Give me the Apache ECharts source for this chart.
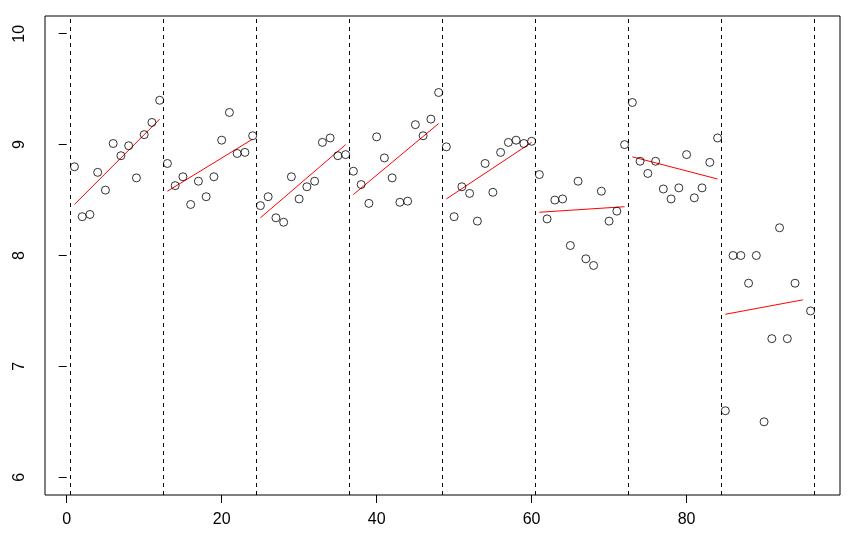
<!DOCTYPE html>
<html>
<head>
<meta charset="utf-8">
<script src="https://cdn.jsdelivr.net/npm/echarts@6/dist/echarts.min.js"></script>
<style>
  html, body { margin: 0; padding: 0; background: #fff; }
  #chart { width: 852px; height: 539px; }
</style>
</head>
<body>
<div id="chart"></div>
<script>
// observed values, index 1..96 (95 is missing)
var values = [
  8.80, 8.35, 8.37, 8.75, 8.59, 9.01, 8.90, 8.99, 8.70, 9.09, 9.20, 9.40,
  8.83, 8.63, 8.71, 8.46, 8.67, 8.53, 8.71, 9.04, 9.29, 8.92, 8.93, 9.08,
  8.45, 8.53, 8.34, 8.30, 8.71, 8.51, 8.62, 8.67, 9.02, 9.06, 8.90, 8.91,
  8.76, 8.64, 8.47, 9.07, 8.88, 8.70, 8.48, 8.49, 9.18, 9.08, 9.23, 9.47,
  8.98, 8.35, 8.62, 8.56, 8.31, 8.83, 8.57, 8.93, 9.02, 9.04, 9.01, 9.03,
  8.73, 8.33, 8.50, 8.51, 8.09, 8.67, 7.97, 7.91, 8.58, 8.31, 8.40, 9.00,
  9.38, 8.85, 8.74, 8.85, 8.60, 8.51, 8.61, 8.91, 8.52, 8.61, 8.84, 9.06,
  6.60, 8.00, 8.00, 7.75, 8.00, 6.50, 7.25, 8.25, 7.25, 7.75, null, 7.50
];
// segment boundaries (dashed lines)
var breaks = [0.5, 12.5, 24.5, 36.5, 48.5, 60.5, 72.5, 84.5, 96.5];
// fitted trend per segment: x range and fitted value at each end
var trendX0 = [1, 13, 25, 37, 49, 61, 73, 85];
var trendX1 = [12, 24, 36, 48, 60, 72, 84, 95];
var trendY0 = [8.46, 8.58, 8.34, 8.55, 8.51, 8.39, 8.89, 7.47];
var trendY1 = [9.23, 9.05, 9.00, 9.19, 9.02, 8.44, 8.69, 7.60];
var xTicks = [0, 20, 40, 60, 80];
var yTicks = [6, 7, 8, 9, 10];

var font = '"Liberation Sans", Arial, sans-serif';
var chart = echarts.init(document.getElementById('chart'));

var points = [];
values.forEach(function (v, i) {
  if (v !== null) points.push([i + 1, v]);
});

var series = [];
trendX0.forEach(function (x0, k) {
  series.push({
    type: 'line',
    data: [[x0, trendY0[k]], [trendX1[k], trendY1[k]]],
    showSymbol: false,
    silent: true,
    lineStyle: { color: '#ff0000', width: 1 },
    z: 3
  });
});
series.push({
  type: 'scatter',
  data: points,
  symbol: 'circle',
  symbolSize: 8,
  itemStyle: { color: 'rgba(0,0,0,0)', borderColor: '#000', borderWidth: 1 },
  z: 4,
  markLine: {
    silent: true,
    symbol: ['none', 'none'],
    label: { show: false },
    lineStyle: { color: '#000', type: [4, 4], width: 1 },
    data: breaks.map(function (b) { return { xAxis: b }; })
  }
});

var option = {
  backgroundColor: '#fff',
  animation: false,
  grid: {
    left: 45, right: 12, top: 16, bottom: 44,
    show: true, borderColor: '#000', borderWidth: 1
  },
  xAxis: {
    type: 'value',
    min: -2.8, max: 99.8,
    splitLine: { show: false },
    axisLine: { show: false },
    axisTick: { show: true, length: 8, customValues: xTicks, lineStyle: { color: '#000' } },
    axisLabel: { customValues: xTicks, margin: 17, color: '#000', fontSize: 16, fontFamily: font }
  },
  yAxis: {
    type: 'value',
    min: 5.84, max: 10.16,
    splitLine: { show: false },
    axisLine: { show: false },
    axisTick: { show: true, length: 8, customValues: yTicks, lineStyle: { color: '#000' } },
    axisLabel: { customValues: yTicks, rotate: 90, margin: 17, color: '#000', fontSize: 16, fontFamily: font }
  },
  series: series
};
chart.setOption(option);
</script>
</body>
</html>
